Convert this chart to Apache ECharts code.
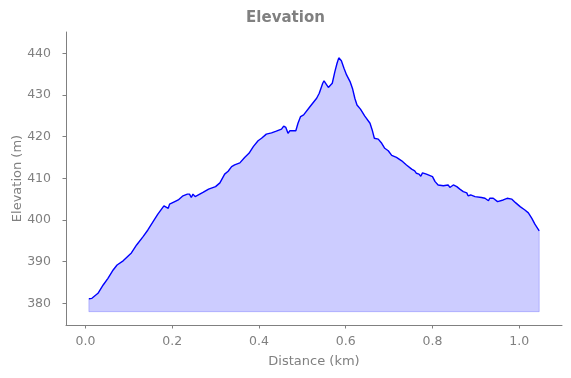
<!DOCTYPE html>
<html>
<head>
<meta charset="utf-8">
<script src="https://cdn.jsdelivr.net/npm/echarts@6/dist/echarts.min.js"></script>
<style>html,body{margin:0;padding:0;background:#fff}#c{width:571px;height:378px}</style>
</head>
<body>
<div id="c"></div>
<script>
var distanceKm = [0.008,0.015,0.019,0.029,0.041,0.052,0.064,0.073,0.087,0.106,0.118,0.133,0.144,0.156,0.167,0.181,0.185,0.191,0.194,0.206,0.214,0.225,0.235,0.240,0.244,0.248,0.253,0.256,0.271,0.284,0.300,0.310,0.321,0.329,0.337,0.344,0.356,0.367,0.377,0.387,0.398,0.406,0.417,0.429,0.440,0.452,0.457,0.462,0.467,0.471,0.485,0.490,0.496,0.503,0.506,0.517,0.533,0.539,0.547,0.550,0.554,0.560,0.563,0.569,0.575,0.580,0.584,0.590,0.596,0.602,0.610,0.616,0.621,0.626,0.634,0.644,0.656,0.661,0.666,0.675,0.683,0.690,0.698,0.706,0.717,0.729,0.740,0.752,0.759,0.763,0.769,0.773,0.777,0.786,0.800,0.806,0.813,0.825,0.836,0.840,0.848,0.856,0.863,0.871,0.879,0.882,0.888,0.898,0.913,0.921,0.929,0.932,0.940,0.944,0.950,0.954,0.963,0.972,0.983,0.992,1.002,1.013,1.021,1.029,1.036,1.046];
var elevationM = [381.1,381.2,381.0,382.4,384.4,386.0,388.0,389.2,390.2,392.1,394.0,396.0,397.6,399.6,401.4,403.4,403.6,402.8,403.8,404.4,404.8,405.8,406.2,406.2,405.4,406.2,405.6,406.0,406.6,407.4,408.0,408.9,411.0,411.7,412.8,413.2,413.7,415.0,416.0,417.6,419.0,419.6,420.6,420.9,421.3,421.8,422.5,422.2,420.8,421.4,421.4,423.2,424.8,425.2,425.6,427.1,429.2,430.4,432.8,433.4,433.2,431.8,431.6,432.8,435.6,437.6,438.9,438.2,436.4,434.8,433.2,431.4,429.2,427.6,426.6,424.9,423.2,421.6,419.6,419.4,418.4,417.2,416.6,415.5,415.0,414.2,413.2,412.2,411.8,411.2,411.0,410.5,411.3,411.0,410.4,409.2,408.4,408.2,408.4,407.8,408.4,408.0,407.4,406.8,406.5,405.8,406.0,405.6,405.4,405.2,404.6,405.2,405.2,404.8,404.4,404.8,404.8,405.2,405.0,404.1,403.2,402.4,401.7,400.4,399.0,397.4];
var fillBase = 378;
var xTicks = [0.0,0.2,0.4,0.6,0.8,1.0];
var yTicks = [380,390,400,410,420,430,440];

var lineData = distanceKm.map(function(x,i){return [x, elevationM[i]];});
var n = distanceKm.length;
var edgeData = [[distanceKm[0], elevationM[0]],[distanceKm[0], fillBase],[distanceKm[n-1], fillBase],[distanceKm[n-1], elevationM[n-1]]];
var gray = '#808080';
var font = 'DejaVu Sans';
var chart = echarts.init(document.getElementById('c'), null, {renderer:'canvas'});
chart.setOption({
  animation:false,
  backgroundColor:'#fff',
  title:{text:'Elevation', left:'center', top:6, textStyle:{fontFamily:font, fontSize:15, fontWeight:'bold', color:gray}},
  grid:{left:66, right:9, top:32, bottom:53, containLabel:false, outerBoundsMode:'none'},
  xAxis:{type:'value', min:-0.0447, max:1.0985,
    name:'Distance (km)', nameLocation:'middle', nameGap:30, nameMoveOverlap:false,
    nameTextStyle:{fontFamily:font, fontSize:13, color:gray},
    axisLine:{show:true, onZero:false, lineStyle:{color:gray, width:1}},
    axisTick:{show:true, length:3.5, customValues:xTicks, lineStyle:{color:gray}},
    axisLabel:{fontFamily:font, fontSize:12.5, color:gray, margin:10,
      customValues:xTicks, formatter:function(v){return v.toFixed(1);}},
    splitLine:{show:false}},
  yAxis:{type:'value', min:374.8, max:445.1,
    name:'Elevation (m)', nameLocation:'middle', nameGap:42, nameMoveOverlap:false,
    nameTextStyle:{fontFamily:font, fontSize:13, color:gray},
    axisLine:{show:true, onZero:false, lineStyle:{color:gray, width:1}},
    axisTick:{show:true, length:3.5, customValues:yTicks, lineStyle:{color:gray}},
    axisLabel:{fontFamily:font, fontSize:12.5, color:gray, margin:15, customValues:yTicks},
    splitLine:{show:false}},
  series:[
    {type:'line', data:lineData, showSymbol:false, symbol:'none',
     lineStyle:{color:'#0000ff', width:1.4},
     areaStyle:{color:'#ccccff', opacity:1, origin:fillBase}, z:3},
    {type:'line', data:edgeData, showSymbol:false, symbol:'none',
     lineStyle:{color:'rgba(0,0,255,0.2)', width:1}, z:4}
  ]
});
</script>
</body>
</html>
